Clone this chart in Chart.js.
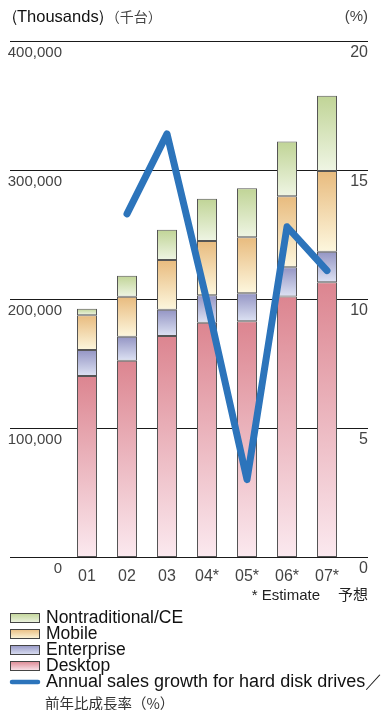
<!DOCTYPE html>
<html>
<head>
<meta charset="utf-8">
<script src="https://cdn.jsdelivr.net/npm/chart.js@4"></script>
<style>
  body { margin: 0; background: #fff; }
  canvas { display: block; }
</style>
</head>
<body>
<canvas id="hddChart" width="389" height="710"></canvas>
<script>
// Unidades vendidas (milhares) por segmento, e crescimento anual (%)
const anos = ['01', '02', '03', '04*', '05*', '06*', '07*'];
const desktop = [140300, 152200, 171300, 181600, 182700, 202000, 213000];
const enterprise = [20200, 18600, 20400, 21300, 21800, 22600, 23700];
const mobile = [27000, 31000, 38500, 42100, 43300, 55000, 62500];
const nontraditional = [5000, 16300, 23500, 32800, 38000, 42400, 58400];
const crescimento = [null, 13.3, 16.4, 9.9, 3.0, 12.8, 11.1];

const ticksMilhares = [0, 100000, 200000, 300000, 400000];
const ticksPercent = [0, 5, 10, 15, 20];

const legendaNomes = ['Nontraditional/CE', 'Mobile', 'Enterprise', 'Desktop'];
const legendaLinha = ['Annual sales growth for hard disk drives／', '前年比成長率（%）'];

const pilhas = [desktop, enterprise, mobile, nontraditional];

// cores: [topo, base] de cada segmento
const coresDesktop = ['#dc8590', '#fbe9ef'];
const coresEnterprise = ['#9495c4', '#dde2f3'];
const coresMobile = ['#e8bb7e', '#fdf7de'];
const coresNontrad = ['#c0d496', '#eff5e4'];
const corLinha = '#2c74bb';

const fonteEixo = "'Liberation Sans', Arial, sans-serif";
const fonteTexto = "'Liberation Sans', Arial, sans-serif";
const fonteJP = "'Noto Sans CJK JP', sans-serif";

// Gradiente vertical de cada segmento da pilha
function gradienteSegmento(cores) {
    return function(context) {
        const chart = context.chart;
        if (!chart.chartArea || context.type !== 'data') return cores[0];
        const y = chart.scales.y;
        let base = 0;
        for (let i = 0; i < context.datasetIndex; i++) {
            base += pilhas[i][context.dataIndex];
        }
        const valor = pilhas[context.datasetIndex][context.dataIndex];
        const topo = y.getPixelForValue(base + valor);
        const fundo = y.getPixelForValue(base);
        const g = chart.ctx.createLinearGradient(0, topo, 0, fundo);
        g.addColorStop(0, cores[0]);
        g.addColorStop(1, cores[1]);
        return g;
    };
}

// Linhas horizontais que atravessam toda a largura
const gradePlugin = {
    id: 'grade',
    beforeDatasetsDraw(chart) {
        const ctx = chart.ctx;
        const y = chart.scales.y;
        ctx.save();
        ctx.strokeStyle = '#1a1a1a';
        ctx.lineWidth = 1;
        ticksMilhares.forEach(function(v) {
            const py = Math.round(y.getPixelForValue(v)) + 0.5;
            ctx.beginPath();
            ctx.moveTo(10, py);
            ctx.lineTo(368, py);
            ctx.stroke();
        });
        ctx.restore();
    }
};

// Títulos dos eixos, nota de estimativa e legenda
const textosPlugin = {
    id: 'textos',
    afterDraw(chart) {
        const ctx = chart.ctx;
        ctx.save();
        ctx.textBaseline = 'middle';

        // cabeçalho
        ctx.textAlign = 'left';
        ctx.fillStyle = '#111';
        ctx.font = '16.5px ' + fonteTexto;
        ctx.fillText('（', 2, 17);
        ctx.fillText('Thousands', 17, 17);
        const fim = 17 + ctx.measureText('Thousands').width;
        ctx.fillText('）', fim - 2, 17);
        ctx.fillStyle = '#444';
        ctx.font = '14px ' + fonteJP;
        ctx.fillText('（千台）', fim + 7, 17);
        ctx.textAlign = 'right';
        ctx.font = '15px ' + fonteEixo;
        ctx.fillText('(%)', 368, 17);

        // nota
        ctx.fillStyle = '#222';
        ctx.font = '15px ' + fonteTexto;
        ctx.fillText('* Estimate', 320, 596);
        ctx.font = '15px ' + fonteJP;
        ctx.fillText('予想', 368, 594);

        // legenda
        const cores = [coresNontrad, coresMobile, coresEnterprise, coresDesktop];
        const linhasY = [618, 634, 650, 666];
        ctx.textAlign = 'left';
        legendaNomes.forEach(function(nome, i) {
            const cy = linhasY[i];
            const g = ctx.createLinearGradient(0, cy - 5, 0, cy + 5);
            g.addColorStop(0, cores[i][0]);
            g.addColorStop(1, cores[i][1]);
            ctx.fillStyle = g;
            ctx.fillRect(10, cy - 5, 30, 10);
            ctx.strokeStyle = '#444';
            ctx.lineWidth = 1;
            ctx.strokeRect(10.5, cy - 4.5, 29, 9);
            ctx.fillStyle = '#111';
            ctx.font = '17.5px ' + fonteTexto;
            ctx.fillText(nome, 46, cy);
        });

        ctx.strokeStyle = corLinha;
        ctx.lineWidth = 4.5;
        ctx.lineCap = 'round';
        ctx.beginPath();
        ctx.moveTo(12, 682);
        ctx.lineTo(38, 682);
        ctx.stroke();
        ctx.fillStyle = '#111';
        ctx.font = '18px ' + fonteTexto;
        ctx.fillText(legendaLinha[0], 46, 682);
        ctx.fillStyle = '#333';
        ctx.font = '14.5px ' + fonteJP;
        ctx.fillText(legendaLinha[1], 45, 703);

        ctx.restore();
    }
};

const barBase = {
    type: 'bar',
    borderColor: '#555',
    borderWidth: 1,
    borderSkipped: false,
    barPercentage: 0.5,
    categoryPercentage: 1.0,
    yAxisID: 'y',
    order: 1
};

new Chart(document.getElementById('hddChart'), {
    data: {
        labels: anos,
        datasets: [
            Object.assign({}, barBase, { label: 'Desktop', data: desktop, backgroundColor: gradienteSegmento(coresDesktop) }),
            Object.assign({}, barBase, { label: 'Enterprise', data: enterprise, backgroundColor: gradienteSegmento(coresEnterprise) }),
            Object.assign({}, barBase, { label: 'Mobile', data: mobile, backgroundColor: gradienteSegmento(coresMobile) }),
            Object.assign({}, barBase, { label: 'Nontraditional/CE', data: nontraditional, backgroundColor: gradienteSegmento(coresNontrad) }),
            {
                type: 'line',
                label: 'Annual sales growth',
                data: crescimento,
                yAxisID: 'y1',
                borderColor: corLinha,
                borderWidth: 7,
                borderCapStyle: 'round',
                borderJoinStyle: 'round',
                pointRadius: 0,
                tension: 0,
                order: 0
            }
        ]
    },
    options: {
        responsive: false,
        animation: false,
        layout: { padding: { top: 41, right: 21, left: 0, bottom: 0 } },
        plugins: {
            legend: { display: false },
            tooltip: { enabled: false }
        },
        scales: {
            x: {
                stacked: true,
                offset: true,
                grid: { display: false, drawTicks: false },
                border: { display: false },
                ticks: {
                    color: '#444',
                    padding: 10,
                    font: { family: fonteEixo, size: 16 },
                    maxRotation: 0
                },
                afterFit(scale) { scale.height = 153; }
            },
            y: {
                stacked: true,
                position: 'left',
                min: 0,
                max: 400000,
                grid: { display: false, drawTicks: false },
                border: { display: false },
                afterBuildTicks(scale) {
                    scale.ticks = ticksMilhares.map(function(v) { return { value: v }; });
                },
                ticks: {
                    color: '#444',
                    padding: 5,
                    labelOffset: 12,
                    font: { family: fonteEixo, size: 15 },
                    callback: function(v) { return v.toLocaleString('en-US'); }
                },
                afterFit(scale) { scale.width = 67; }
            },
            y1: {
                position: 'right',
                min: 0,
                max: 20,
                grid: { display: false, drawTicks: false },
                border: { display: false },
                afterBuildTicks(scale) {
                    scale.ticks = ticksPercent.map(function(v) { return { value: v }; });
                },
                ticks: {
                    color: '#444',
                    padding: 0,
                    labelOffset: 12,
                    crossAlign: 'far',
                    font: { family: fonteEixo, size: 16 }
                },
                afterFit(scale) { scale.width = 21; }
            }
        }
    },
    plugins: [gradePlugin, textosPlugin]
});
</script>
</body>
</html>
